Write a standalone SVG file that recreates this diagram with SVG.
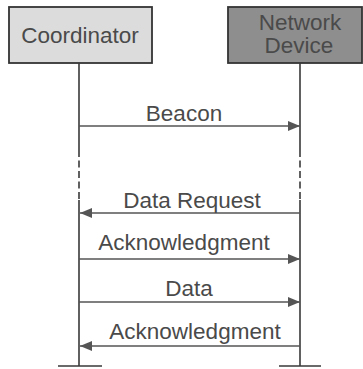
<svg xmlns="http://www.w3.org/2000/svg" width="363" height="369" viewBox="0 0 363 369">
<style>
.t{font-family:"Liberation Sans",Arial,sans-serif;font-size:22.5px;fill:#4a4a4a;text-anchor:middle}
.ln{stroke:#3a3a3a;stroke-width:1.6;fill:none}
.msg{stroke:#555;stroke-width:1.6;fill:none}
.box{stroke:#333;stroke-width:1.8}
</style>
<defs>
<marker id="ah" markerWidth="12" markerHeight="10" refX="12" refY="5" orient="auto" markerUnits="userSpaceOnUse">
<path d="M0,0 L12,5 L0,10 Z" fill="#555"/>
</marker>
</defs>
<rect width="363" height="369" fill="#fff"/>
<g id="coordinator">
<rect class="box" x="9" y="7" width="143" height="56" fill="#dcdcdc"/>
<text class="t" x="80" y="43">Coordinator</text>
</g>
<g id="network-device">
<rect class="box" x="228" y="7" width="134" height="56" fill="#8e8e8e"/>
<text class="t" x="300" y="30">Network</text>
<text class="t" x="299" y="53">Device</text>
</g>
<g id="lifelines">
<path class="ln" d="M79,63 V150 M79,200 V366 M300,63 V150 M300,200 V366"/>
<path class="ln" d="M79,150 V200 M300,150 V200" stroke-dasharray="7,3.5"/>
<path class="ln" d="M58,366 H102 M279,366 H321"/>
</g>
<g id="connectors">
<path class="msg" d="M79,126 H300" marker-end="url(#ah)"/>
<text class="t" x="184" y="121">Beacon</text>
<path class="msg" d="M300,213 H80" marker-end="url(#ah)"/>
<text class="t" x="192" y="208">Data Request</text>
<path class="msg" d="M79,259 H300" marker-end="url(#ah)"/>
<text class="t" x="184" y="250">Acknowledgment</text>
<path class="msg" d="M79,302 H300" marker-end="url(#ah)"/>
<text class="t" x="189" y="296">Data</text>
<path class="msg" d="M300,346 H80" marker-end="url(#ah)"/>
<text class="t" x="195" y="339">Acknowledgment</text>
</g>
</svg>
